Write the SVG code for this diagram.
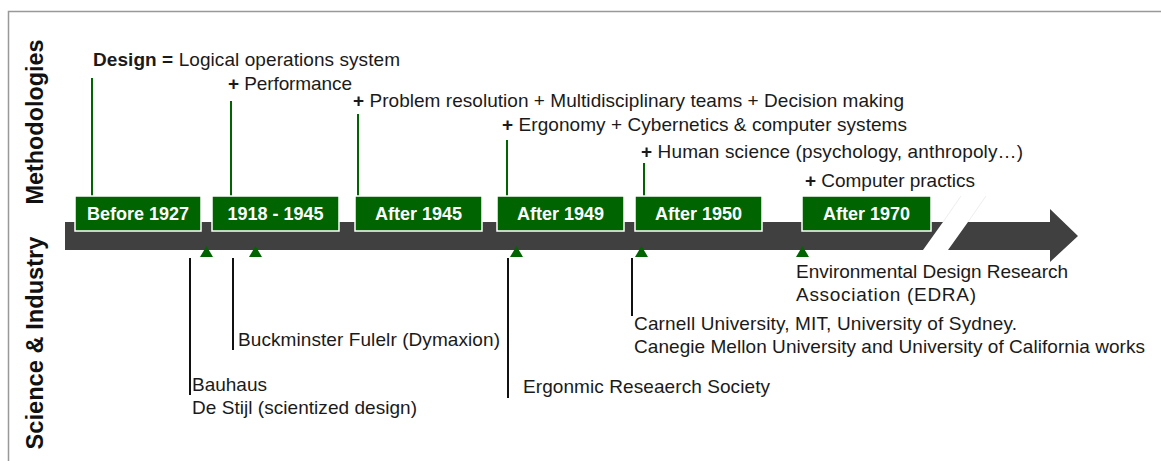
<svg xmlns="http://www.w3.org/2000/svg" width="1161" height="461" viewBox="0 0 1161 461">
<style>
text{font-family:"Liberation Sans",Arial,sans-serif;fill:#1a1a1a}
.axis{font-size:23px;font-weight:bold;fill:#111}
.m{font-size:19px}
.b{font-weight:bold}
.s{font-size:19px}
.box{fill:#006400;stroke:#fff;stroke-width:1.5}
.lbl{font-size:18px;font-weight:bold;fill:#fff;text-anchor:middle}
.gl{stroke:#006400;stroke-width:2}
.kl{stroke:#111;stroke-width:2}
.tri{fill:#006400}
</style>
<rect width="1161" height="461" fill="#fff"/>
<path d="M1161 11.5H8.5V461" fill="none" stroke="#999" stroke-width="1.5"/>
<text class="axis" transform="translate(43,122) rotate(-90)" text-anchor="middle" textLength="165" lengthAdjust="spacingAndGlyphs">Methodologies</text>
<text class="axis" transform="translate(43,343) rotate(-90)" text-anchor="middle" textLength="213" lengthAdjust="spacingAndGlyphs">Science &amp; Industry</text>

<g id="bar">
<polygon points="65,222 943,222 923,250 65,250" fill="#404040"/>
<polygon points="968,222 1050,222 1050,209 1078,236 1050,262 1050,250 948,250" fill="#404040"/>
<line x1="943" y1="222" x2="961" y2="196" stroke="#eee" stroke-width="1"/>
<line x1="968" y1="222" x2="986" y2="196" stroke="#eee" stroke-width="1"/>
</g>

<g id="connectors">
<line class="gl" x1="92" y1="78" x2="92" y2="196"/>
<line class="gl" x1="231" y1="101" x2="231" y2="196"/>
<line class="gl" x1="358" y1="114" x2="358" y2="196"/>
<line class="gl" x1="507" y1="140" x2="507" y2="196"/>
<line class="gl" x1="644" y1="163" x2="644" y2="196"/>
<line class="kl" x1="190" y1="258" x2="190" y2="395"/>
<line class="kl" x1="233" y1="258" x2="233" y2="350"/>
<line class="kl" x1="508" y1="258" x2="508" y2="398"/>
<line class="kl" x1="632" y1="258" x2="632" y2="316"/>
</g>

<g id="triangles">
<polygon class="tri" points="200,257 213,257 206.5,246"/>
<polygon class="tri" points="249,257 262,257 255.5,246"/>
<polygon class="tri" points="510,257 523,257 516.5,246"/>
<polygon class="tri" points="635,257 648,257 641.5,246"/>
<polygon class="tri" points="796,257 809,257 802.5,246"/>
</g>

<g id="before1927"><rect class="box" x="75" y="196" width="126" height="35"/><text class="lbl" x="138" y="220">Before 1927</text></g>
<g id="p1918"><rect class="box" x="212" y="196" width="127" height="35"/><text class="lbl" x="275.5" y="220">1918 - 1945</text></g>
<g id="after1945"><rect class="box" x="355" y="196" width="127" height="35"/><text class="lbl" x="418.5" y="220">After 1945</text></g>
<g id="after1949"><rect class="box" x="497" y="196" width="127" height="35"/><text class="lbl" x="560.5" y="220">After 1949</text></g>
<g id="after1950"><rect class="box" x="635" y="196" width="127" height="35"/><text class="lbl" x="698.5" y="220">After 1950</text></g>
<g id="after1970"><rect class="box" x="802" y="196" width="129" height="35"/><text class="lbl" x="866.5" y="220">After 1970</text></g>

<g id="methodologies">
<text class="m" x="93" y="66" textLength="307"><tspan class="b">Design =</tspan> Logical operations system</text>
<text class="m" x="228" y="90" textLength="124"><tspan class="b">+</tspan> Performance</text>
<text class="m" x="353" y="107" textLength="551"><tspan class="b">+</tspan> Problem resolution + Multidisciplinary teams + Decision making</text>
<text class="m" x="502" y="131" textLength="405"><tspan class="b">+</tspan> Ergonomy + Cybernetics &amp; computer systems</text>
<text class="m" x="641" y="158" textLength="382"><tspan class="b">+</tspan> Human science (psychology, anthropoly…)</text>
<text class="m" x="805" y="187" textLength="170"><tspan class="b">+</tspan> Computer practics</text>
</g>

<g id="science">
<text class="s" x="192" y="391">Bauhaus</text>
<text class="s" x="192" y="414" textLength="225">De Stijl (scientized design)</text>
<text class="s" x="238" y="346" textLength="262">Buckminster Fulelr (Dymaxion)</text>
<text class="s" x="523" y="393" textLength="247">Ergonmic Reseaerch Society</text>
<text class="s" x="634" y="330" textLength="383">Carnell University, MIT, University of Sydney.</text>
<text class="s" x="634" y="353" textLength="511">Canegie Mellon University and University of California works</text>
<text class="s" x="796" y="278" textLength="272">Environmental Design Research</text>
<text class="s" x="796" y="301" textLength="180">Association (EDRA)</text>
</g>
</svg>
